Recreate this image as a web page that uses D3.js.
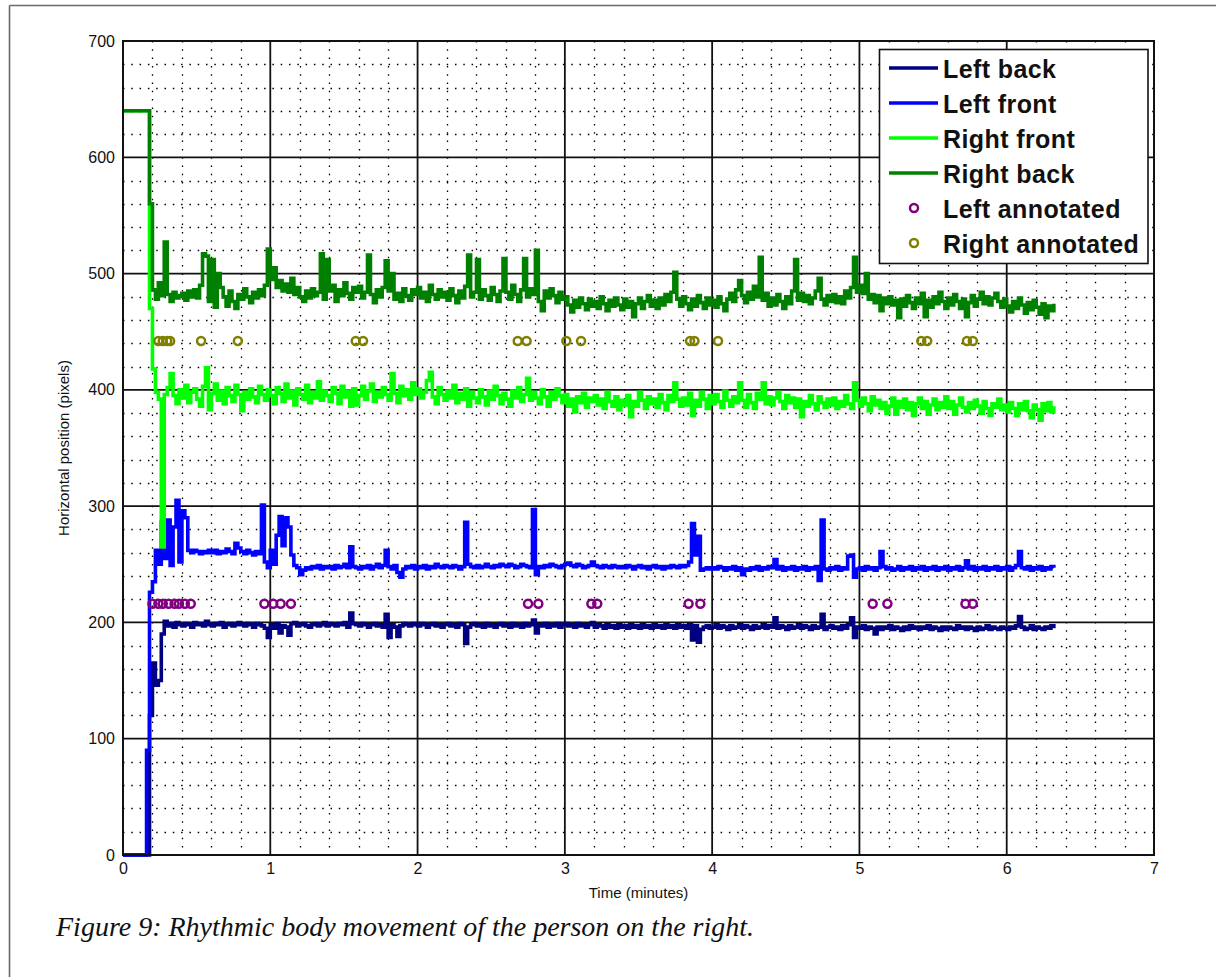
<!DOCTYPE html>
<html><head><meta charset="utf-8">
<script src="https://cdn.jsdelivr.net/npm/d3@7"></script>
<style>
html,body{margin:0;padding:0;background:#fff;}
svg{display:block;}
</style></head>
<body>
<svg id="chart" width="1216" height="977"></svg>
<script>
// ---------------- DATA ----------------
const TIME_STEP = 0.02; // minutes between samples
const xTicks = [0,1,2,3,4,5,6,7];
const yTicks = [0,100,200,300,400,500,600,700];
const seriesNames = ["Left back","Left front","Right front","Right back"];
const annotNames = ["Left annotated","Right annotated"];

const leftBack = [
0,0,0,0,0,0,0,0,0,120,
165,146,150,190,201,197,199,196,200,198,
197,199,198,196,200,198,199,197,201,198,
197,199,198,200,196,198,199,197,198,200,
198,197,199,198,196,199,198,197,195,187,
198,195,199,191,197,196,189,199,200,197,
198,199,197,196,198,199,197,198,200,197,
199,198,197,199,198,200,196,208,199,198,
197,199,198,196,198,199,197,198,196,207,
187,198,196,188,197,199,198,197,199,198,
197,199,198,196,198,199,197,198,196,198,
199,197,198,196,199,198,182,196,198,199,
197,198,196,199,197,198,196,198,199,197,
198,196,199,197,198,196,199,197,198,202,
191,198,197,199,196,198,197,199,196,198,
199,197,198,196,199,197,198,196,198,200,
196,198,197,195,198,196,197,195,198,196,
197,195,198,196,197,195,198,196,197,195,
198,196,197,195,198,196,197,195,198,196,
197,195,198,185,197,183,194,196,197,195,
196,198,195,197,196,194,197,195,196,198,
195,197,196,194,197,195,196,198,195,197,
196,204,195,197,196,194,197,195,196,198,
195,197,196,194,197,195,196,207,194,196,
197,195,196,194,197,195,198,204,187,196,
195,197,194,196,195,190,196,194,196,195,
197,194,196,195,193,196,194,197,195,196,
194,196,195,197,194,196,195,193,196,194,
196,195,194,197,195,196,194,196,195,193,
196,194,195,197,194,196,195,194,196,195,
194,196,195,197,205,196,194,195,197,194,
196,195,194,196,195,197,195
];

const leftFront = [
0,0,0,0,0,0,0,0,90,226,
235,262,250,286,255,288,249,282,305,252,
296,290,262,260,262,261,259,261,260,262,
260,262,259,261,260,263,261,259,268,264,
261,259,262,260,258,261,259,301,252,247,
262,250,275,291,266,290,282,258,249,247,
241,245,247,246,248,247,249,246,248,247,
248,246,249,247,248,250,247,265,248,247,
246,248,247,249,246,248,250,247,249,262,
248,246,249,243,239,246,248,247,249,246,
248,247,249,246,248,247,250,248,247,249,
248,247,249,248,246,248,286,250,248,247,
249,247,248,250,248,247,249,248,250,249,
248,250,249,247,248,250,249,248,247,297,
241,248,247,249,248,250,249,248,247,249,
250,251,249,248,250,249,247,248,249,252,
249,248,247,249,248,247,249,248,247,248,
247,249,248,246,248,249,247,248,246,248,
249,247,248,246,248,247,249,248,247,249,
248,249,252,285,258,274,245,246,247,246,
247,246,248,247,245,247,246,248,245,247,
241,246,245,247,246,248,245,247,246,248,
247,254,246,248,245,247,246,248,245,247,
246,248,245,247,246,248,236,288,246,245,
247,246,248,245,247,246,257,258,239,246,
247,245,248,246,247,245,247,261,248,246,
247,245,246,248,245,247,246,248,245,247,
246,248,245,247,246,248,245,247,246,248,
245,247,246,248,245,247,253,246,248,245,
247,246,248,245,247,246,248,245,247,246,
248,245,247,249,261,247,246,248,245,247,
246,248,245,247,246,248,247
];

const rightFront = [
640,640,640,640,640,640,640,640,640,470,
418,398,392,265,396,402,414,395,388,400,
393,404,389,398,401,392,386,403,419,383,
397,405,391,399,388,402,395,390,404,396,
382,398,392,401,394,389,403,396,391,400,
395,388,402,397,390,405,393,399,387,401,
396,392,404,389,398,393,407,391,399,395,
390,402,397,388,403,394,399,386,401,387,
395,403,392,399,405,390,398,394,402,396,
391,414,397,389,403,395,400,392,406,396,
401,393,398,408,415,394,388,402,396,391,
399,393,404,389,397,392,401,386,398,393,
389,400,394,387,399,392,403,395,388,397,
392,386,399,393,402,390,396,410,391,398,
393,388,400,394,386,398,392,401,395,389,
396,386,392,381,394,389,397,385,393,390,
395,387,392,384,398,390,386,394,383,391,
387,395,377,390,386,398,391,384,394,388,
392,385,396,389,383,395,390,406,392,386,
393,387,397,378,391,386,398,392,384,395,
388,396,390,385,399,391,386,394,389,406,
391,385,396,389,384,397,392,406,388,394,
387,393,398,390,384,395,389,393,385,392,
377,390,386,395,388,383,394,389,385,392,
387,393,384,390,386,395,388,384,406,391,
386,393,388,382,394,387,391,384,389,380,
386,393,379,390,385,392,383,389,378,388,
393,384,390,379,387,392,383,389,385,394,
384,390,379,387,393,385,381,389,384,391,
386,380,390,384,378,388,385,392,383,387,
381,389,384,378,388,383,390,382,376,387,
383,374,388,382,389,381,386
];

const rightBack = [
640,640,640,640,640,640,640,640,640,560,
486,478,492,481,527,482,476,484,479,481,
483,477,485,480,486,479,490,517,515,476,
512,471,500,488,480,472,485,476,470,482,
478,487,480,475,484,479,486,481,490,521,
495,505,488,494,485,491,484,496,482,488,
480,476,485,479,487,481,484,517,478,512,
485,490,476,486,481,492,483,478,488,484,
489,479,484,516,482,475,486,480,488,511,
485,500,478,483,476,487,481,477,486,482,
488,479,484,476,490,482,478,486,480,484,
477,487,481,475,485,479,489,516,480,484,
512,478,486,481,477,488,482,476,485,513,
484,478,490,482,476,486,513,480,487,482,
520,476,468,485,479,487,481,475,484,478,
480,473,467,477,471,479,474,469,478,472,
476,470,480,474,468,477,472,479,473,469,
478,471,476,463,474,479,470,476,481,472,
477,470,479,473,482,476,484,501,478,472,
480,474,469,478,472,481,475,470,479,473,
477,471,480,474,468,478,483,476,486,494,
481,475,484,478,489,480,514,477,483,472,
479,473,482,476,470,480,474,485,512,477,
483,476,481,474,479,485,496,478,473,481,
476,482,475,480,474,485,479,488,514,484,
490,483,500,478,482,475,481,468,479,474,
480,473,477,462,478,472,481,475,470,479,
474,483,463,477,471,480,474,484,476,470,
479,473,482,476,470,478,463,475,481,472,
478,484,474,480,473,479,483,476,471,478,
472,467,476,470,479,473,466,475,469,477,
471,465,474,462,472,468,474
];

const leftAnnotTimes = [0.20,0.24,0.27,0.31,0.35,0.38,0.42,0.46,0.96,1.02,1.07,1.14,2.75,2.82,3.18,3.22,3.84,3.92,5.09,5.19,5.72,5.77];
const leftAnnotLevel = 216;
const rightAnnotTimes = [0.24,0.27,0.30,0.32,0.53,0.78,1.58,1.63,2.68,2.74,3.01,3.11,3.85,3.88,4.04,5.42,5.46,5.73,5.77];
const rightAnnotLevel = 442;

const seriesColors = ["#000080","#0000ff","#00ff00","#008000"];
const annotColors = ["#800080","#808000"];

// ---------------- DRAW ----------------
const svg = d3.select("#chart");
const W = 1216, H = 977;
const x = d3.scaleLinear().domain([0,7]).range([123,1154]);
const y = d3.scaleLinear().domain([0,700]).range([855,41]);

// figure frame (page crop edges)
svg.append("line").attr("x1",9.5).attr("x2",W).attr("y1",5.5).attr("y2",5.5)
  .attr("stroke","#6a6a6a").attr("stroke-width",1.6);
svg.append("line").attr("x1",9.5).attr("x2",9.5).attr("y1",5.5).attr("y2",H)
  .attr("stroke","#6a6a6a").attr("stroke-width",1.6);

const plot = svg.append("g");
plot.append("rect").attr("x",x(0)).attr("y",y(700)).attr("width",x(7)-x(0)).attr("height",y(0)-y(700)).attr("fill","#fff");

// minor dotted grid
const minorX = d3.range(0,7.0001,0.2).filter(v=>Math.abs(v-Math.round(v))>1e-6);
const minorY = d3.range(0,700.001,20).filter(v=>v%100!==0);
plot.append("g").selectAll("line").data(minorX).join("line")
  .attr("x1",d=>Math.round(x(d))+0.5).attr("x2",d=>Math.round(x(d))+0.5).attr("y1",y(700)).attr("y2",y(0))
  .attr("stroke","#000").attr("stroke-width",1.3).attr("stroke-dasharray","1.5,6.8");
plot.append("g").selectAll("line").data(minorY).join("line")
  .attr("x1",x(0)).attr("x2",x(7)).attr("y1",d=>Math.round(y(d))+0.5).attr("y2",d=>Math.round(y(d))+0.5)
  .attr("stroke","#000").attr("stroke-width",1.3).attr("stroke-dasharray","1.5,6.8");
// major grid
plot.append("g").selectAll("line").data(xTicks).join("line")
  .attr("x1",d=>x(d)).attr("x2",d=>x(d)).attr("y1",y(700)).attr("y2",y(0))
  .attr("stroke","#111").attr("stroke-width",1.8);
plot.append("g").selectAll("line").data(yTicks).join("line")
  .attr("x1",x(0)).attr("x2",x(7)).attr("y1",d=>y(d)).attr("y2",d=>y(d))
  .attr("stroke","#111").attr("stroke-width",1.8);

// series
const allSeries = [leftBack,leftFront,rightFront,rightBack];
const line = d3.line().x((d,i)=>x(i*TIME_STEP)).y(d=>y(d)).curve(d3.curveStepAfter);
allSeries.forEach((vals,k)=>{
  plot.append("path").datum(vals).attr("d",line)
    .attr("fill","none").attr("stroke",seriesColors[k]).attr("stroke-width",3.6)
    .attr("stroke-linejoin","miter").attr("stroke-linecap","butt");
});

// annotations
[[leftAnnotTimes,leftAnnotLevel],[rightAnnotTimes,rightAnnotLevel]].forEach(([ts,lv],k)=>{
  plot.append("g").selectAll("circle").data(ts).join("circle")
    .attr("cx",d=>x(d)).attr("cy",y(lv)).attr("r",4)
    .attr("fill","none").attr("stroke",annotColors[k]).attr("stroke-width",2.5);
});

// axes box
plot.append("rect").attr("x",x(0)).attr("y",y(700)).attr("width",x(7)-x(0)).attr("height",y(0)-y(700))
  .attr("fill","none").attr("stroke","#111").attr("stroke-width",2);

// axes labels
const xAxis = d3.axisBottom(x).tickValues(xTicks).tickSize(0).tickPadding(8).tickFormat(d3.format("d"));
const gx = svg.append("g").attr("transform",`translate(0,${y(0)})`).call(xAxis);
gx.select(".domain").remove();
gx.selectAll("text").attr("font-family","'Liberation Sans',Arial,sans-serif").attr("font-size",16).attr("fill","#111");

const yAxis = d3.axisLeft(y).tickValues(yTicks).tickSize(0).tickPadding(8).tickFormat(d3.format("d"));
const gy = svg.append("g").attr("transform",`translate(${x(0)},0)`).call(yAxis);
gy.select(".domain").remove();
gy.selectAll("text").attr("font-family","'Liberation Sans',Arial,sans-serif").attr("font-size",16).attr("fill","#111");

svg.append("text").attr("x",(x(0)+x(7))/2).attr("y",898).attr("text-anchor","middle")
  .attr("font-family","'Liberation Sans',Arial,sans-serif").attr("font-size",15).attr("fill","#111")
  .text("Time (minutes)");
svg.append("text").attr("transform",`translate(69,${(y(0)+y(700))/2}) rotate(-90)`).attr("text-anchor","middle")
  .attr("font-family","'Liberation Sans',Arial,sans-serif").attr("font-size",15).attr("fill","#111")
  .text("Horizontal position (pixels)");

// legend
const lg = {x:879.5, y:49.5, w:268.5, h:214};
svg.append("clipPath").attr("id","legclip").append("rect").attr("x",lg.x).attr("y",lg.y).attr("width",lg.w-1).attr("height",lg.h);
const leg = svg.append("g");
leg.append("rect").attr("x",lg.x).attr("y",lg.y).attr("width",lg.w).attr("height",lg.h)
  .attr("fill","#fff").attr("stroke","#111").attr("stroke-width",1.6);
const legItems = seriesNames.map((n,i)=>({name:n,type:"line",color:seriesColors[i]}))
  .concat(annotNames.map((n,i)=>({name:n,type:"circle",color:annotColors[i]})));
const rowY = i => 68 + i*35;
const legRows = leg.append("g").attr("clip-path","url(#legclip)").selectAll("g").data(legItems).join("g");
legRows.filter(d=>d.type==="line").append("line")
  .attr("x1",889).attr("x2",938).attr("y1",d=>rowY(legItems.indexOf(d))).attr("y2",d=>rowY(legItems.indexOf(d)))
  .attr("stroke",d=>d.color).attr("stroke-width",3.4);
legRows.filter(d=>d.type==="circle").append("circle")
  .attr("cx",914).attr("cy",d=>rowY(legItems.indexOf(d))).attr("r",4)
  .attr("fill","none").attr("stroke",d=>d.color).attr("stroke-width",2.5);
legRows.append("text").attr("x",943).attr("y",d=>rowY(legItems.indexOf(d))+10)
  .attr("font-family","'Liberation Sans',Arial,sans-serif").attr("font-size",25).attr("font-weight","bold")
  .attr("letter-spacing",0.4).attr("fill","#111")
  .text(d=>d.name);

// caption
svg.append("text").attr("x",56).attr("y",936)
  .attr("font-family","'Liberation Serif','Times New Roman',serif").attr("font-style","italic").attr("font-size",28).attr("fill","#111")
  .text("Figure 9: Rhythmic body movement of the person on the right.");
</script>
</body></html>
